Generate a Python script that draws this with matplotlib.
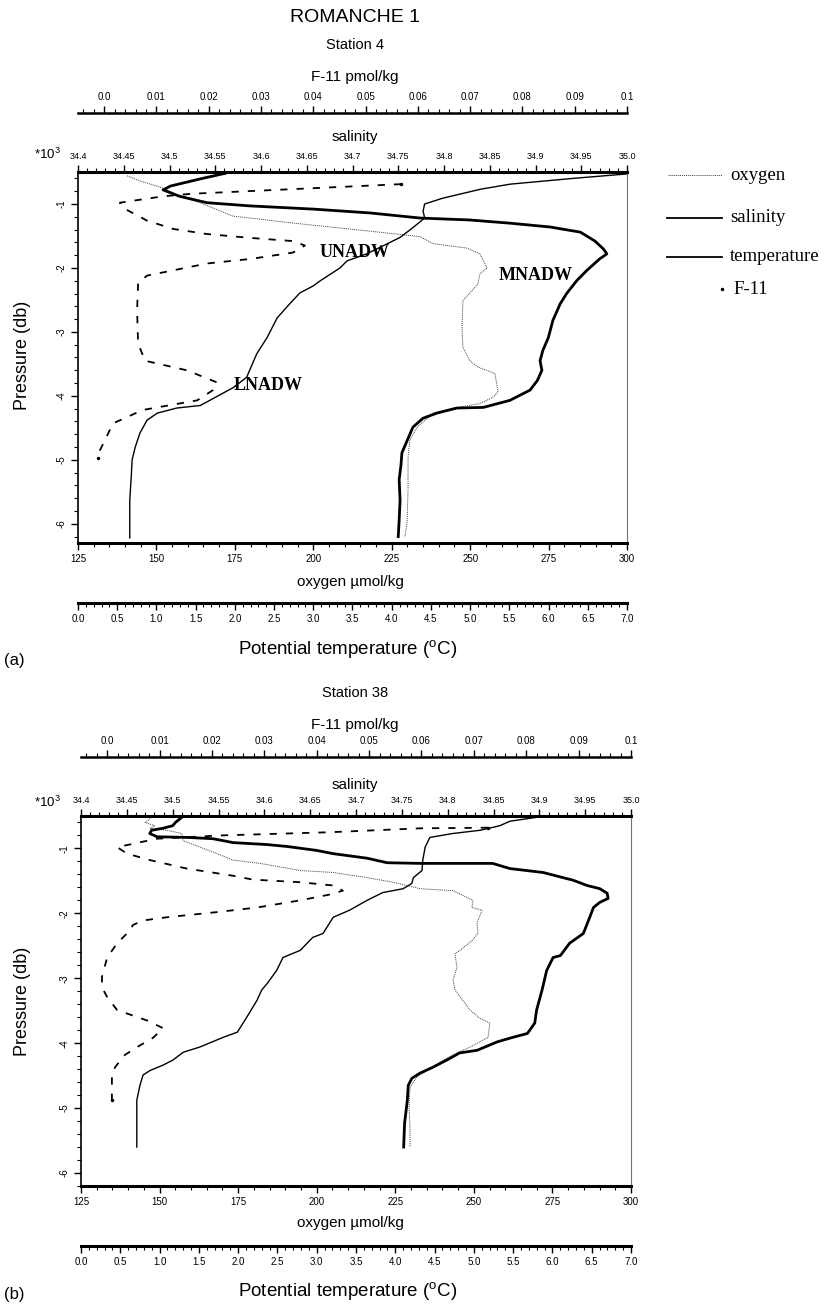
import matplotlib.pyplot as plt
from matplotlib.lines import Line2D
from matplotlib.ticker import MultipleLocator

plt.rcParams['font.family'] = ['Liberation Sans', 'DejaVu Sans']
plt.rcParams['axes.unicode_minus'] = False
plt.rcParams['mathtext.fontset'] = 'custom'
plt.rcParams['mathtext.rm'] = 'Liberation Sans'

# axis ticks / labels
f11_ticks = [0.0, 0.01, 0.02, 0.03, 0.04, 0.05, 0.06, 0.07, 0.08, 0.09, 0.1]
f11_labels = ['0.0', '0.01', '0.02', '0.03', '0.04', '0.05', '0.06', '0.07', '0.08', '0.09', '0.1']
sal_ticks = [34.4, 34.45, 34.5, 34.55, 34.6, 34.65, 34.7, 34.75, 34.8, 34.85, 34.9, 34.95, 35.0]
sal_labels = ['34.4', '34.45', '34.5', '34.55', '34.6', '34.65', '34.7', '34.75', '34.8', '34.85',
              '34.9', '34.95', '35.0']
oxy_ticks = [125, 150, 175, 200, 225, 250, 275, 300]
oxy_labels = ['125', '150', '175', '200', '225', '250', '275', '300']
temp_ticks = [0.0, 0.5, 1.0, 1.5, 2.0, 2.5, 3.0, 3.5, 4.0, 4.5, 5.0, 5.5, 6.0, 6.5, 7.0]
temp_labels = ['0.0', '0.5', '1.0', '1.5', '2.0', '2.5', '3.0', '3.5', '4.0', '4.5', '5.0', '5.5',
               '6.0', '6.5', '7.0']
pres_ticks = [-1, -2, -3, -4, -5, -6]
pres_labels = ['-1', '-2', '-3', '-4', '-5', '-6']

# ---- station 4 (pressure in 10^3 db) ----
a_sal_p = [-0.52, -0.61, -0.72, -0.78, -0.88, -0.98, -1.03, -1.08, -1.14, -1.22, -1.25, -1.30, -1.36,
           -1.44, -1.58, -1.70, -1.78, -1.86, -2.04, -2.20, -2.40, -2.56, -2.82, -3.09, -3.29, -3.45,
           -3.60, -3.76, -3.91, -4.07, -4.18, -4.19, -4.27, -4.35, -4.49, -4.69, -4.89, -5.08, -5.31,
           -5.63, -5.94, -6.20]
a_sal = [34.561, 34.533, 34.501, 34.493, 34.511, 34.541, 34.588, 34.657, 34.719, 34.774, 34.828,
         34.872, 34.916, 34.949, 34.965, 34.974, 34.978, 34.970, 34.956, 34.945, 34.934, 34.927,
         34.919, 34.914, 34.908, 34.905, 34.907, 34.902, 34.894, 34.872, 34.843, 34.814, 34.792,
         34.777, 34.766, 34.760, 34.754, 34.753, 34.751, 34.752, 34.751, 34.750]
a_temp_p = [-0.53, -0.60, -0.69, -0.77, -0.91, -1.00, -1.11, -1.22, -1.37, -1.52, -1.60, -1.78, -1.89,
            -2.00, -2.20, -2.28, -2.39, -2.56, -2.78, -3.09, -3.34, -3.71, -3.87, -4.15, -4.19, -4.27,
            -4.38, -4.58, -4.80, -5.00, -5.24, -5.63, -6.22]
a_temp = [7.00, 6.31, 5.51, 5.13, 4.65, 4.42, 4.40, 4.42, 4.27, 4.11, 3.98, 3.68, 3.43, 3.34, 3.09,
          3.00, 2.83, 2.70, 2.54, 2.41, 2.28, 2.15, 1.98, 1.56, 1.26, 1.01, 0.88, 0.79, 0.73, 0.69,
          0.68, 0.66, 0.66]
a_oxy_p = [-0.56, -0.64, -0.75, -0.88, -0.98, -1.19, -1.31, -1.42, -1.51, -1.62, -1.69, -1.78, -2.00,
           -2.09, -2.25, -2.51, -2.93, -3.24, -3.45, -3.55, -3.65, -3.94, -4.02, -4.12, -4.19, -4.27,
           -4.49, -4.69, -4.96, -5.47, -5.98, -6.20]
a_oxy = [140.6, 144.8, 152.1, 157.5, 163.9, 174.4, 195.8, 217.1, 234.0, 238.2, 249.0, 253.1, 255.4,
         253.1, 252.5, 247.7, 247.4, 247.7, 249.9, 252.5, 257.9, 258.9, 257.3, 253.1, 245.2, 238.2,
         233.1, 230.8, 230.2, 230.2, 229.9, 229.2]
a_f11_p = [-0.69, -0.84, -0.88, -0.98, -1.06, -1.26, -1.39, -1.47, -1.53, -1.58, -1.65, -1.76, -1.86,
           -1.93, -2.12, -2.23, -2.67, -3.18, -3.45, -3.60, -3.79, -3.91, -4.07, -4.22, -4.43, -4.85,
           -4.97]
a_f11 = [0.0568, 0.0168, 0.0113, 0.0030, 0.0036, 0.0082, 0.0132, 0.0197, 0.0279, 0.0361, 0.0384,
         0.0361, 0.0279, 0.0197, 0.0082, 0.0065, 0.0063, 0.0065, 0.0078, 0.0158, 0.0216, 0.0208,
         0.0178, 0.0074, 0.0017, -0.0008, -0.0012]

# ---- station 38 ----
b_sal_p = [-0.52, -0.60, -0.65, -0.69, -0.72, -0.77, -0.82, -0.83, -0.85, -0.91, -0.94, -0.97, -1.03,
           -1.08, -1.15, -1.22, -1.23, -1.23, -1.31, -1.37, -1.49, -1.57, -1.62, -1.69, -1.77, -1.83,
           -1.91, -2.06, -2.31, -2.46, -2.65, -2.68, -2.88, -3.18, -3.49, -3.69, -3.85, -3.91, -3.98,
           -4.11, -4.15, -4.26, -4.37, -4.46, -4.54, -4.65, -4.88, -5.23, -5.60]
b_sal = [34.510, 34.503, 34.500, 34.489, 34.477, 34.475, 34.483, 34.516, 34.544, 34.566, 34.603,
         34.625, 34.657, 34.675, 34.712, 34.734, 34.770, 34.849, 34.868, 34.904, 34.937, 34.952,
         34.966, 34.974, 34.975, 34.966, 34.959, 34.955, 34.948, 34.933, 34.923, 34.915, 34.908,
         34.903, 34.897, 34.895, 34.887, 34.871, 34.854, 34.832, 34.813, 34.799, 34.784, 34.770,
         34.761, 34.757, 34.756, 34.753, 34.752]
b_temp_p = [-0.52, -0.58, -0.65, -0.72, -0.77, -0.83, -0.98, -1.18, -1.34, -1.45, -1.54, -1.62, -1.68,
            -1.80, -1.95, -2.06, -2.31, -2.37, -2.57, -2.68, -2.88, -3.08, -3.18, -3.34, -3.60, -3.83,
            -3.91, -4.06, -4.14, -4.26, -4.34, -4.42, -4.49, -4.65, -4.88, -5.23, -5.60]
b_temp = [5.80, 5.46, 5.33, 5.08, 4.73, 4.44, 4.38, 4.35, 4.34, 4.23, 4.21, 4.10, 3.84, 3.64, 3.42,
          3.21, 3.08, 2.95, 2.79, 2.57, 2.49, 2.37, 2.30, 2.24, 2.11, 1.99, 1.81, 1.51, 1.30, 1.17,
          1.04, 0.88, 0.79, 0.75, 0.71, 0.71, 0.71]
b_oxy_p = [-0.54, -0.60, -0.65, -0.69, -0.72, -0.77, -0.88, -0.98, -1.08, -1.18, -1.23, -1.34, -1.37,
           -1.45, -1.52, -1.62, -1.65, -1.80, -1.91, -1.95, -2.15, -2.31, -2.42, -2.57, -2.62, -2.83,
           -3.03, -3.18, -3.34, -3.49, -3.62, -3.69, -3.91, -4.06, -4.15, -4.29, -4.42, -4.52, -4.68,
           -4.98, -5.34, -5.60]
b_oxy = [147.0, 145.4, 148.5, 147.0, 152.4, 157.1, 157.5, 162.9, 168.3, 173.4, 182.0, 194.7, 205.2,
         216.0, 224.3, 232.9, 243.4, 249.7, 249.4, 252.6, 251.0, 251.3, 249.4, 245.6, 244.0, 244.6,
         243.4, 244.0, 246.5, 248.8, 252.0, 255.1, 254.5, 248.8, 244.6, 239.2, 235.1, 231.9, 229.7,
         229.4, 229.7, 229.7]
b_f11_p = [-0.68, -0.69, -0.75, -0.80, -0.85, -0.98, -1.08, -1.18, -1.31, -1.42, -1.48, -1.52, -1.57,
           -1.65, -1.71, -1.80, -1.91, -1.98, -2.06, -2.11, -2.18, -2.26, -2.46, -2.68, -2.98, -3.14,
           -3.29, -3.49, -3.65, -3.77, -3.92, -4.06, -4.18, -4.37, -4.52, -4.68, -4.88]
b_f11 = [0.0727, 0.0597, 0.0425, 0.0215, 0.0095, 0.0019, 0.0038, 0.0082, 0.0152, 0.0240, 0.0278,
         0.0368, 0.0431, 0.0450, 0.0425, 0.0368, 0.0286, 0.0210, 0.0114, 0.0068, 0.0049, 0.0044,
         0.0019, 0.0000, -0.0010, -0.0010, 0.0000, 0.0019, 0.0076, 0.0107, 0.0087, 0.0057, 0.0034,
         0.0015, 0.0009, 0.0009, 0.0009]

W, H = 834, 1314
fig = plt.figure(figsize=(W / 100, H / 100), dpi=100)


def fx(x):
    return x / W


def fy(y):
    return 1 - y / H


def panel(left, top, right, bottom, ylim, sal_p, sal, temp_p, temp, oxy_p, oxy, f11_p, f11):
    ax = fig.add_axes([fx(left), fy(bottom), (right - left) / W, (bottom - top) / H])
    ax.set_xlim(125, 300)
    ax.set_ylim(*ylim)
    ax.set_xticks(oxy_ticks)
    ax.set_xticklabels(oxy_labels)
    ax.xaxis.set_minor_locator(MultipleLocator(5))
    ax.set_yticks(pres_ticks)
    ax.set_yticklabels(pres_labels, rotation=90, va='center')
    ax.yaxis.set_minor_locator(MultipleLocator(0.2))
    ax.tick_params(axis='both', which='major', direction='out', length=5, width=1.0, labelsize=7, pad=3)
    ax.tick_params(axis='both', which='minor', direction='out', length=3, width=0.8)
    ax.spines['top'].set_visible(False)
    ax.spines['bottom'].set_linewidth(2.2)
    ax.spines['left'].set_linewidth(1.2)
    ax.spines['right'].set_linewidth(0.8)
    ax.spines['right'].set_color('0.45')
    ax.plot(oxy, oxy_p, color='0.25', lw=0.7, ls=(0, (1, 1)))

    # salinity on top spine
    ax_s = ax.twiny()
    ax_s.set_xlim(34.4, 35.0)
    ax_s.set_xticks(sal_ticks)
    ax_s.set_xticklabels(sal_labels)
    ax_s.xaxis.set_minor_locator(MultipleLocator(0.01))
    ax_s.tick_params(which='major', direction='out', length=5, width=1.0, labelsize=6.5, pad=3)
    ax_s.tick_params(which='minor', direction='out', length=3, width=0.8)
    for s in ['bottom', 'left', 'right']:
        ax_s.spines[s].set_visible(False)
    ax_s.spines['top'].set_linewidth(2.2)
    ax_s.plot(sal, sal_p, color='k', lw=2.0)

    # potential temperature, detached axis below
    ax_t = ax.twiny()
    ax_t.set_xlim(0, 7)
    ax_t.xaxis.set_ticks_position('bottom')
    ax_t.spines['bottom'].set_position(('outward', 43))
    ax_t.set_xticks(temp_ticks)
    ax_t.set_xticklabels(temp_labels)
    ax_t.xaxis.set_minor_locator(MultipleLocator(0.1))
    ax_t.tick_params(which='major', direction='out', length=5, width=1.0, labelsize=7, pad=3)
    ax_t.tick_params(which='minor', direction='out', length=3, width=0.8)
    for s in ['top', 'left', 'right']:
        ax_t.spines[s].set_visible(False)
    ax_t.spines['bottom'].set_linewidth(2.2)
    ax_t.plot(temp, temp_p, color='k', lw=1.0)

    # F-11, detached axis above
    ax_f = ax.twiny()
    ax_f.set_xlim(-0.005, 0.1)
    ax_f.spines['top'].set_position(('outward', 42.5))
    ax_f.set_xticks(f11_ticks)
    ax_f.set_xticklabels(f11_labels)
    ax_f.xaxis.set_minor_locator(MultipleLocator(0.002))
    ax_f.tick_params(which='major', direction='out', length=5, width=1.0, labelsize=7, pad=3)
    ax_f.tick_params(which='minor', direction='out', length=3, width=0.8)
    for s in ['bottom', 'left', 'right']:
        ax_f.spines[s].set_visible(False)
    ax_f.spines['top'].set_linewidth(1.8)
    ax_f.plot(f11, f11_p, color='k', lw=1.3, ls=(0, (4, 5)),
              marker='.', ms=3, markevery=[0, len(f11) - 1])
    return ax


ax_a = panel(78, 172, 627, 543, (-6.3, -0.5), a_sal_p, a_sal, a_temp_p, a_temp,
             a_oxy_p, a_oxy, a_f11_p, a_f11)
ax_b = panel(81, 816, 631, 1186, (-6.2, -0.5), b_sal_p, b_sal, b_temp_p, b_temp,
             b_oxy_p, b_oxy, b_f11_p, b_f11)

# water mass labels (station 4)
serif = 'Liberation Serif'
ax_a.text(213.3, -1.76, 'UNADW', family=serif, weight='bold', size=13, ha='center', va='center')
ax_a.text(185.6, -3.83, 'LNADW', family=serif, weight='bold', size=13, ha='center', va='center')
ax_a.text(271.0, -2.12, 'MNADW', family=serif, weight='bold', size=13, ha='center', va='center')

# legend (drawn by hand, like the original)
fig.add_artist(Line2D([fx(668), fx(722)], [fy(175)] * 2, color='0.25', lw=0.7, ls=(0, (1, 1))))
fig.add_artist(Line2D([fx(667), fx(722)], [fy(218)] * 2, color='k', lw=1.3))
fig.add_artist(Line2D([fx(667), fx(722)], [fy(257)] * 2, color='k', lw=1.3))
fig.add_artist(Line2D([fx(722)], [fy(289)], color='k', marker='.', ms=3, ls='none'))
for txt, y in [('oxygen', 180), ('salinity', 222), ('temperature', 261), ('F-11', 294)]:
    fig.text(fx(730 if txt != 'F-11' else 733), fy(y), txt, family=serif, size=13.5, va='baseline')

# titles and axis captions
fig.text(fx(355), fy(17), 'ROMANCHE 1', size=14, ha='center', va='center')
for y0, station in [(0, 'Station 4'), (648, 'Station 38')]:
    fig.text(fx(355), fy(45 + y0), station, size=10.5, ha='center', va='center')
    fig.text(fx(355), fy(77 + y0), 'F-11 pmol/kg', size=11, ha='center', va='center')
    fig.text(fx(355), fy(137 + y0), 'salinity', size=11, ha='center', va='center')
    fig.text(fx(47), fy(154 + y0), r'*10$^{3}$', size=9.5, ha='center', va='center')
    fig.text(fx(350), fy(582 + y0 - (0 if y0 == 0 else 7)), 'oxygen µmol/kg', size=11,
             ha='center', va='center')
    fig.text(fx(348), fy(650 + y0 - (0 if y0 == 0 else 6)), r'Potential temperature ($^{\rm o}$C)',
             size=13.5, ha='center', va='center')
    fig.text(fx(23), fy(355 + y0 - (0 if y0 == 0 else 2)), 'Pressure (db)', size=13, rotation=90,
             ha='center', va='center')
fig.text(fx(4), fy(660), '(a)', size=12, ha='left', va='center')
fig.text(fx(4), fy(1294), '(b)', size=12, ha='left', va='center')

fig.savefig('out.png', dpi=100)
